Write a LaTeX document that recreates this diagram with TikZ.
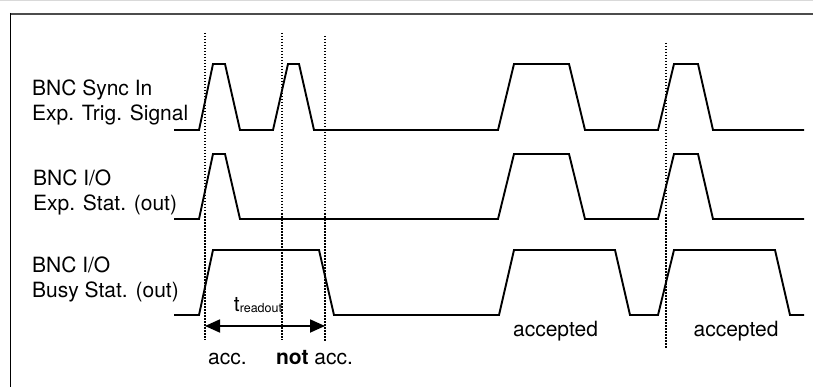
\documentclass[tikz,border=0pt]{standalone}
\usepackage{fontspec}
\setmainfont{TeX Gyre Heros}
\usetikzlibrary{calc}
\usetikzlibrary{positioning}
\usetikzlibrary{arrows.meta}

\tikzset{
  signal/.style={line width=1.9pt, line join=miter},
  marker/.style={line width=1.5pt, dash pattern=on 1.5pt off 1.5pt},
  label/.style={anchor=north west, inner sep=0pt, align=left,
    font=\fontsize{21}{25}\selectfont},
  note/.style={anchor=base, inner sep=0pt, font=\fontsize{21}{25}\selectfont},
}

\begin{document}
\begin{tikzpicture}[%
  >={Triangle[length=15pt,width=13pt]},
  x=1pt, y=-1pt,
]

  \useasboundingbox (0,0) rectangle (813,387);

  % frame
  \draw[gray!30, line width=1pt] (0,0.5) -- (813,0.5);
  \draw[black!70, line width=2pt] (9.8,14) -- (813,14);
  \draw[line width=1.5pt] (10.5,13) -- (10.5,387);

  % labels
  \node[label] (sync) at (32,80) {BNC Sync In\\Exp. Trig. Signal};
  \node[label] (expstat) at (33,170) {BNC I/O\\Exp. Stat. (out)};
  \node[label] (busy) at (32,257) {BNC I/O\\Busy Stat. (out)};

  % signals
  \draw[signal] (174,130) -- (199,130) -- (213,64) -- (225,64) -- (240,130)
    -- (273,130) -- (288,64) -- (299,64) -- (314,130)
    -- (498,130) -- (514,64) -- (569,64) -- (585,130)
    -- (658,130) -- (674,64) -- (698,64) -- (713,130) -- (804,130);
  \draw[signal] (174,219) -- (199,219) -- (213,154) -- (225,154) -- (240,219)
    -- (498,219) -- (514,154) -- (569,154) -- (585,219)
    -- (658,219) -- (674,154) -- (698,154) -- (713,219) -- (804,219);
  \draw[signal] (174,315) -- (199,315) -- (213,250) -- (319,250) -- (334,315)
    -- (499,315) -- (514,250) -- (615,250) -- (630,315)
    -- (658,315) -- (674,250) -- (775,250) -- (790,315) -- (804,315);

  % trigger markers
  \coordinate (m1t) at (205,33);
  \coordinate (m1b) at (205,340);
  \coordinate (m2t) at (282,33);
  \coordinate (m2b) at (282,340);
  \coordinate (m3t) at (325,36);
  \coordinate (m3b) at (325,342);
  \coordinate (m4t) at (666,43);
  \coordinate (m4b) at (666,349);

  \draw[marker] (m1t) -- (m1b);
  \draw[marker] (m2t) -- (m2b);
  \draw[marker] (m3t) -- (m3b);
  \draw[marker] (m4t) -- (m4b);

  % readout time
  \coordinate (r1) at (205,326);
  \coordinate (r2) at (325,326);
  \draw[<->, line width=1.8pt] (r1) -- (r2);
  \node[anchor=base, inner sep=0pt] (tread) at (258,311)
    {\fontsize{21}{21}\selectfont t\fontsize{12.5}{12.5}\selectfont\raisebox{-1pt}{readout}};

  \node[note] (acc) at (227.5,364) {acc.};
  \node[note] (notacc) at (314.5,364) {\textbf{not} acc.};
  \node[note] (accept1) at (555.5,336.5) {accepted};
  \node[note] (accept2) at (736,336.5) {accepted};

\end{tikzpicture}
\end{document}
